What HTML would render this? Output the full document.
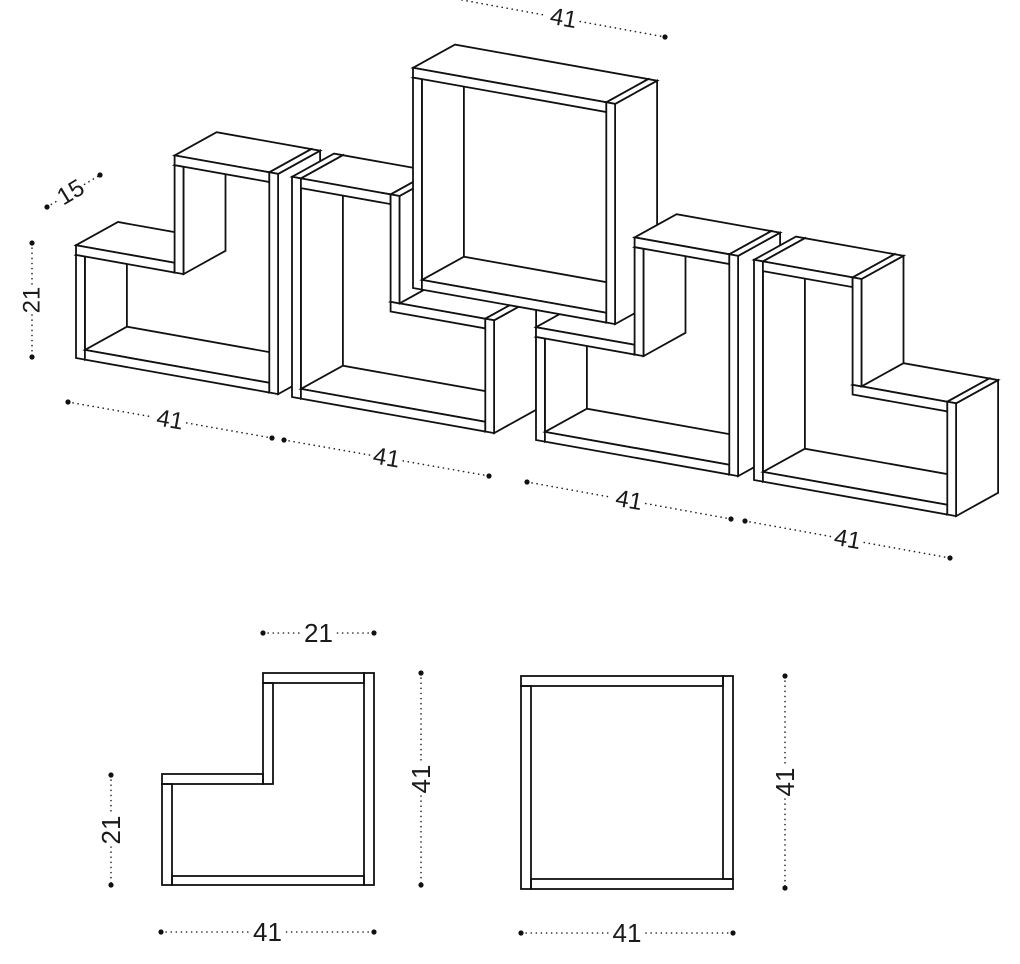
<!DOCTYPE html>
<html><head><meta charset="utf-8"><style>
html,body{margin:0;padding:0;background:#fff;}
svg{display:block;}
text{font-family:"Liberation Sans",sans-serif;fill:#1a1a1a;}
</style></head><body>
<svg id="s" xmlns="http://www.w3.org/2000/svg" width="1020" height="964" viewBox="0 0 1020 964">
<g id="g3d" fill="#fff" stroke="#111" stroke-width="1.8" stroke-linejoin="miter"></g>
<g id="g2d" fill="none" stroke="#111" stroke-width="1.8">
  <rect x="263" y="673" width="101" height="10"/>
  <rect x="364" y="673" width="10" height="212"/>
  <rect x="263" y="683" width="10" height="101"/>
  <rect x="162" y="774" width="101" height="10"/>
  <rect x="162" y="784" width="10" height="101"/>
  <rect x="172" y="876" width="192" height="9"/>
  <rect x="521" y="676" width="202" height="10"/>
  <rect x="723" y="676" width="10" height="203"/>
  <rect x="521" y="686" width="10" height="203"/>
  <rect x="531" y="879" width="202" height="10"/>
</g>
<g id="gdim"></g>
</svg>
<script>
(function(){
var NS="http://www.w3.org/2000/svg";
var g3=document.getElementById('g3d'), gd=document.getElementById('gdim');
var t=1.8, D=15;
function P(o,x,y,z){return [o[0]+x*4.93+z*2.8, o[1]+x*0.88-y*5.37-z*1.55];}
function poly(pts){var p=document.createElementNS(NS,'polygon');p.setAttribute('points',pts.map(function(a){return a[0].toFixed(1)+','+a[1].toFixed(1);}).join(' '));g3.appendChild(p);}
function panel(o,b){var x0=b[0],x1=b[1],y0=b[2],y1=b[3];
 poly([P(o,x1,y0,0),P(o,x1,y0,D),P(o,x1,y1,D),P(o,x1,y1,0)]);
 poly([P(o,x0,y1,0),P(o,x1,y1,0),P(o,x1,y1,D),P(o,x0,y1,D)]);
 poly([P(o,x0,y0,0),P(o,x1,y0,0),P(o,x1,y1,0),P(o,x0,y1,0)]);
}
var LR=[[0,t,0,21-t],[t,41-t,0,t],[0,20,21-t,21],[20,20+t,21-t,41-t],[20,41-t,41-t,41],[41-t,41,0,41]];
var LL=[[0,t,0,41],[t,41-t,0,t],[t,20,41-t,41],[20,41-t,21-t,21],[20,20+t,21,41],[41-t,41,0,21]];
var SQ=[[0,t,0,41-t],[t,41-t,0,t],[0,41-t,41-t,41],[41-t,41,0,41]];
function draw(o,list){list.forEach(function(b){panel(o,b);});}
draw([76,358],LR);
draw([292,397],LL);
draw([536,440],LR.slice(0,3));
draw([413,288],SQ);
draw([536,440],LR.slice(3));
draw([754,480],LL);

function line(x1,y1,x2,y2){var l=document.createElementNS(NS,'line');l.setAttribute('x1',x1);l.setAttribute('y1',y1);l.setAttribute('x2',x2);l.setAttribute('y2',y2);l.setAttribute('stroke','#222');l.setAttribute('stroke-width','1.6');l.setAttribute('stroke-linecap','round');l.setAttribute('stroke-dasharray','0.1 5');gd.appendChild(l);}
function dot(x,y){var c=document.createElementNS(NS,'circle');c.setAttribute('cx',x);c.setAttribute('cy',y);c.setAttribute('r',2.6);c.setAttribute('fill','#111');gd.appendChild(c);}
function txt(x,y,s,ang,fs){var e=document.createElementNS(NS,'text');e.setAttribute('x',x);e.setAttribute('y',y);e.setAttribute('font-size',fs);e.setAttribute('text-anchor','middle');e.setAttribute('dominant-baseline','central');e.setAttribute('transform','rotate('+ang+' '+x+' '+y+')');e.textContent=s;gd.appendChild(e);}
function dim(x1,y1,x2,y2,label,fs,gap,d1,d2,frac){
 frac=frac||0.5;
 var mx=x1+(x2-x1)*frac,my=y1+(y2-y1)*frac;
 var L=Math.hypot(x2-x1,y2-y1),ux=(x2-x1)/L,uy=(y2-y1)/L;
 line(x1,y1,mx-ux*gap,my-uy*gap);line(mx+ux*gap,my+uy*gap,x2,y2);
 if(d1!==false)dot(x1,y1); if(d2!==false)dot(x2,y2);
 var ang=Math.atan2(y2-y1,x2-x1)*180/Math.PI;
 if(ang>=90)ang-=180; if(ang<-90)ang+=180;
 txt(mx,my,label,ang,fs);
}
dim(462,0,665,37,'41',24,17,false,true);
dim(47,207,100,175,'15',24,16,true,true,0.45);
dim(32,243,32,357,'21',24,15,true,true);
dim(68,402,272,438,'41',24,17,true,true);
dim(284,440,489,476,'41',24,17,true,true);
dim(527,482,731,519,'41',24,17,true,true);
dim(745,521,950,558,'41',24,17,true,true);
dim(263,633,374,633,'21',26,19,true,true);
dim(111,775,111,885,'21',26,17,true,true);
dim(421,673,421,885,'41',26,17,true,true);
dim(161,932,374,932,'41',26,19,true,true);
dim(785,676,785,888,'41',26,17,true,true);
dim(521,933,733,933,'41',26,19,true,true);
})();
</script>
</body></html>
